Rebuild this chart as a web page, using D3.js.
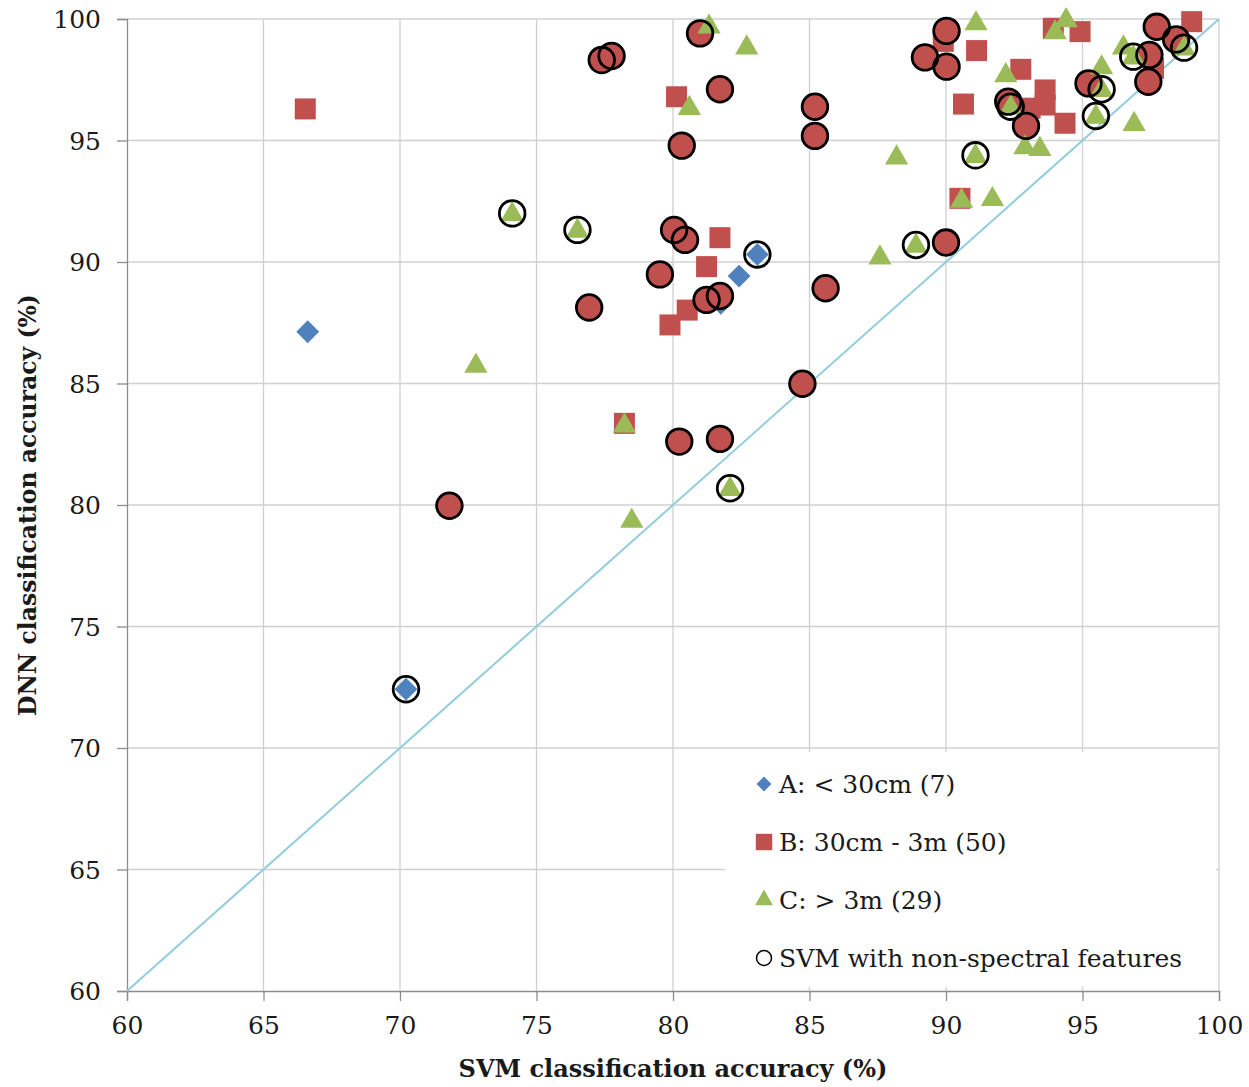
<!DOCTYPE html>
<html><head><meta charset="utf-8">
<script src="https://cdn.jsdelivr.net/npm/d3@7"></script>
<style>body{margin:0;background:#fff;} svg{display:block;}</style>
</head><body>
<svg id="chart" width="1249" height="1087"></svg>
<script>
// ---- Data ----
const xTicks = [60, 65, 70, 75, 80, 85, 90, 95, 100];
const yTicks = [60, 65, 70, 75, 80, 85, 90, 95, 100];

// A: < 30cm (diamonds)
const aX = [66.62, 82.42, 83.09, 70.22, 81.75];
const aY = [87.13, 89.42, 90.31, 72.42, 88.30];

// B: 30cm - 3m (squares)
const bX = [66.53, 80.13, 81.72, 81.23, 80.52, 79.89, 78.22, 89.90, 91.12, 92.74, 90.64, 93.63, 93.63, 93.08, 94.36, 93.93, 94.91, 99.00, 90.51, 97.60];
const bY = [96.30, 96.80, 91.00, 89.81, 88.02, 87.41, 83.36, 99.08, 98.70, 97.93, 96.50, 97.08, 96.46, 96.33, 95.71, 99.62, 99.48, 99.89, 92.62, 97.97];

// B points shown as circles (SVM with non-spectral features)
const bcX = [77.39, 77.75, 80.99, 81.72, 85.20, 85.20, 80.32, 80.04, 80.44, 79.52, 81.23, 81.72, 85.59, 76.93, 80.23, 81.72, 84.74, 71.81, 90.02, 89.23, 90.02, 90.00, 92.28, 92.93, 97.72, 98.43, 97.45, 97.41, 95.22];
const bcY = [98.31, 98.48, 99.41, 97.11, 96.39, 95.19, 94.79, 91.32, 90.91, 89.49, 88.44, 88.60, 88.92, 88.13, 82.61, 82.72, 84.99, 79.97, 99.51, 98.42, 98.04, 90.80, 96.60, 95.60, 99.68, 99.16, 98.52, 97.42, 97.35];

// C: > 3m (triangles)
const cX = [81.32, 82.70, 80.60, 76.50, 74.11, 72.78, 78.22, 78.49, 82.09, 91.10, 92.19, 92.37, 92.89, 93.44, 94.00, 94.40, 96.50, 96.86, 95.70, 95.70, 95.49, 96.89, 98.72, 91.08, 88.19, 90.57, 91.70, 88.90, 87.58];
const cY = [99.72, 98.86, 96.37, 91.32, 92.00, 85.76, 83.30, 79.38, 80.69, 99.85, 97.72, 96.39, 94.75, 94.68, 99.48, 99.98, 98.86, 98.45, 98.04, 97.11, 96.01, 95.71, 98.82, 94.39, 94.33, 92.55, 92.62, 90.70, 90.22];

// Non-spectral rings on A and C points
const ringAX = [83.09, 70.22];
const ringAY = [90.31, 72.42];
const ringCX = [76.50, 74.11, 82.09, 92.37, 96.86, 95.70, 95.49, 98.72, 91.08, 88.90];
const ringCY = [91.32, 92.00, 80.69, 96.39, 98.45, 97.11, 96.01, 98.82, 94.39, 90.70];

const legendLabels = ["A: < 30cm (7)", "B: 30cm - 3m (50)", "C: > 3m (29)", "SVM with non-spectral features"];
const xTitle = "SVM classification accuracy (%)";
const yTitle = "DNN classification accuracy (%)";

// ---- Drawing ----
const colA = "#4F81BD", colB = "#C0504D", colC = "#9BBB59";
const svg = d3.select("#chart");
const pL = 127, pR = 1219, pT = 19, pB = 991;
const x = d3.scaleLinear().domain([60, 100]).range([pL, pR]);
const y = d3.scaleLinear().domain([60, 100]).range([pB, pT]);
const font = "'DejaVu Serif', 'Liberation Serif', serif";

// gridlines
const grid = svg.append("g");
grid.selectAll("line.v").data(xTicks.slice(1)).enter().append("line")
  .attr("x1", d => x(d)).attr("x2", d => x(d)).attr("y1", pT).attr("y2", pB)
  .attr("stroke", "#d0d0d0").attr("stroke-width", 1.3);
grid.selectAll("line.h").data(yTicks.slice(1)).enter().append("line")
  .attr("x1", pL).attr("x2", pR).attr("y1", d => y(d)).attr("y2", d => y(d))
  .attr("stroke", "#d0d0d0").attr("stroke-width", 1.3);

// axes
const xAxis = d3.axisBottom(x).tickValues(xTicks).tickSize(10).tickPadding(15);
const yAxis = d3.axisLeft(y).tickValues(yTicks).tickSize(10).tickPadding(16);
const gx = svg.append("g").attr("transform", `translate(0,${pB})`).call(xAxis);
const gy = svg.append("g").attr("transform", `translate(${pL},0)`).call(yAxis);
[gx, gy].forEach(g => {
  g.select(".domain").attr("stroke", "#8c8c8c").attr("stroke-width", 1.3);
  g.selectAll(".tick line").attr("stroke", "#8c8c8c").attr("stroke-width", 1.3);
  g.selectAll(".tick text").attr("font-family", font).attr("font-size", 25).attr("fill", "#1a1a1a");
});
gy.selectAll(".tick text").attr("dy", "0.35em");

// diagonal 1:1
svg.append("line")
  .attr("x1", x(60)).attr("y1", y(60)).attr("x2", x(100)).attr("y2", y(100))
  .attr("stroke", "#92CDDC").attr("stroke-width", 2);

// legend box (white, hides grid)
const legX = 725, legY = 752;
svg.append("rect").attr("x", legX).attr("y", legY).attr("width", 1216 - legX).attr("height", 987 - legY).attr("fill", "#fff");

// markers
const sym = (type, size) => d3.symbol().type(type).size(size)();
const g = svg.append("g");
g.selectAll("path.a").data(aX.map((v, i) => [v, aY[i]])).enter().append("path")
  .attr("d", sym(d3.symbolSquare, 260))
  .attr("transform", d => `translate(${x(d[0])},${y(d[1])}) rotate(45)`)
  .attr("fill", colA);
g.selectAll("path.b").data(bX.map((v, i) => [v, bY[i]])).enter().append("path")
  .attr("d", sym(d3.symbolSquare, 441))
  .attr("transform", d => `translate(${x(d[0])},${y(d[1])})`)
  .attr("fill", colB);
g.selectAll("circle.bc").data(bcX.map((v, i) => [v, bcY[i]])).enter().append("circle")
  .attr("cx", d => x(d[0])).attr("cy", d => y(d[1])).attr("r", 12.5)
  .attr("fill", colB);
g.selectAll("path.c").data(cX.map((v, i) => [v, cY[i]])).enter().append("path")
  .attr("d", sym(d3.symbolTriangle, 235))
  .attr("transform", d => `translate(${x(d[0])},${y(d[1]) + 1})`)
  .attr("fill", colC);
// rings
const rings = bcX.map((v, i) => [v, bcY[i]])
  .concat(ringAX.map((v, i) => [v, ringAY[i]]))
  .concat(ringCX.map((v, i) => [v, ringCY[i]]));
g.selectAll("circle.ring").data(rings).enter().append("circle")
  .attr("cx", d => x(d[0])).attr("cy", d => y(d[1])).attr("r", 12.8)
  .attr("fill", "none").attr("stroke", "#000").attr("stroke-width", 2.8);

// legend entries
const leg = svg.append("g");
const rowY = [784, 842, 900, 958];
leg.append("path").attr("d", sym(d3.symbolSquare, 110)).attr("transform", `translate(764,${rowY[0]}) rotate(45)`).attr("fill", colA);
leg.append("path").attr("d", sym(d3.symbolSquare, 270)).attr("transform", `translate(764,${rowY[1]})`).attr("fill", colB);
leg.append("path").attr("d", sym(d3.symbolTriangle, 140)).attr("transform", `translate(764,${rowY[2]})`).attr("fill", colC);
leg.append("circle").attr("cx", 764).attr("cy", rowY[3]).attr("r", 7.5).attr("fill", "#fff").attr("stroke", "#000").attr("stroke-width", 1.5);
leg.selectAll("text").data(legendLabels).enter().append("text")
  .attr("x", 779).attr("y", (d, i) => rowY[i]).attr("dy", "0.35em")
  .attr("font-family", font).attr("font-size", 25).attr("fill", "#1a1a1a")
  .text(d => d);

// axis titles
svg.append("text").attr("x", 673).attr("y", 1077).attr("text-anchor", "middle")
  .attr("font-family", font).attr("font-weight", "bold").attr("font-size", 24).attr("fill", "#1a1a1a")
  .text(xTitle);
svg.append("text").attr("transform", "translate(36,505) rotate(-90)").attr("text-anchor", "middle")
  .attr("font-family", font).attr("font-weight", "bold").attr("font-size", 23.5).attr("fill", "#1a1a1a")
  .text(yTitle);
</script>
</body></html>
